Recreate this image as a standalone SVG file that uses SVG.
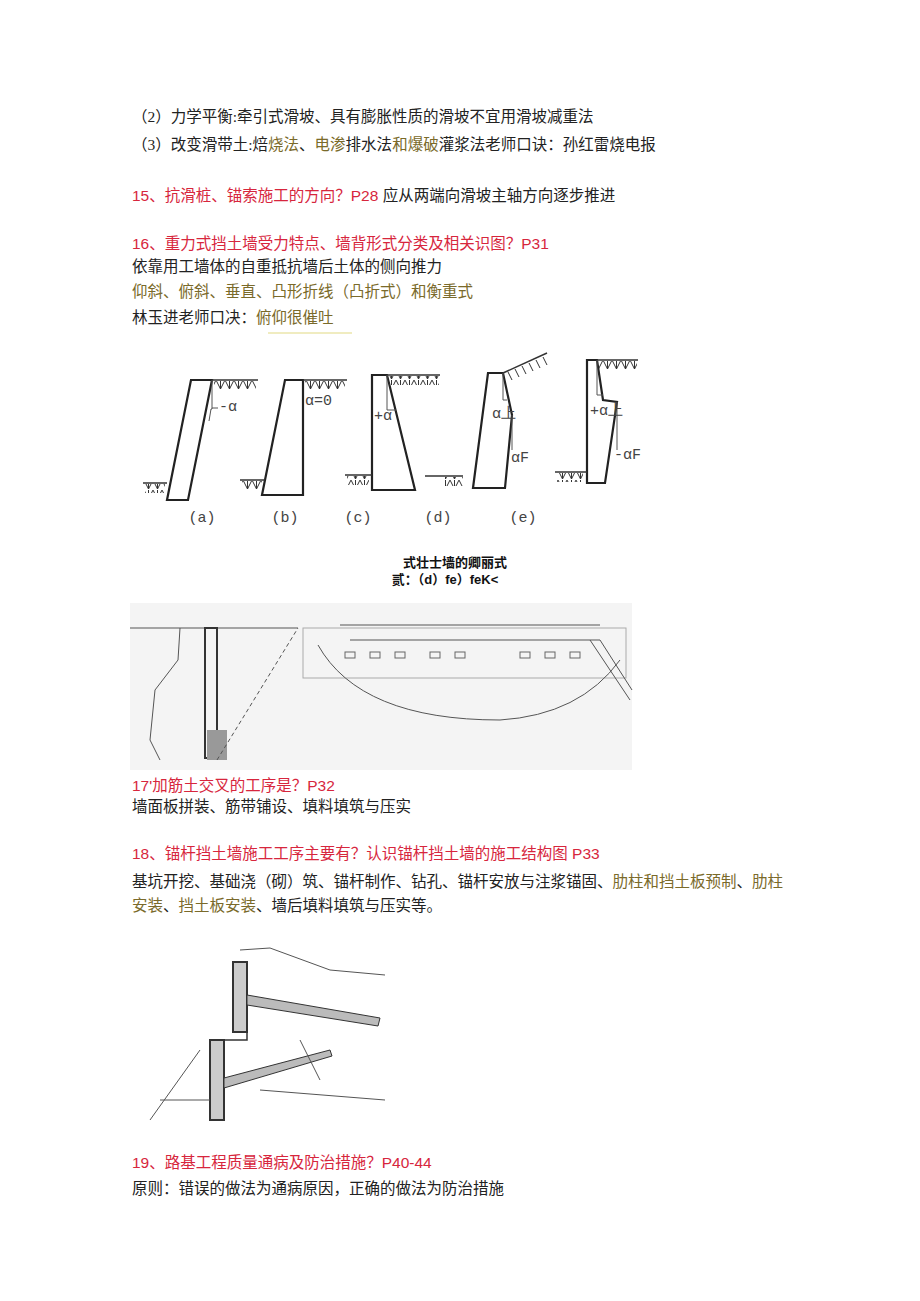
<svg xmlns="http://www.w3.org/2000/svg" width="920" height="1301" viewBox="0 0 920 1301">
<style>
text{font-family:"Liberation Serif","Noto Sans CJK SC",serif;font-size:15.5px;fill:#222}
.r{fill:#d7263d;font-family:"Liberation Sans","Noto Sans CJK SC",sans-serif;font-size:15.5px}
.o{fill:#7a6a2a}
.w{fill:none;stroke:#222;stroke-width:2.2}
.g{fill:none;stroke:#333;stroke-width:1.5}
.h{stroke:#333;stroke-width:1}
.lb{font-family:"Liberation Mono",monospace;font-size:15px;fill:#444}
.cap{font-family:"Liberation Sans","Noto Sans CJK SC",sans-serif;font-size:13px;font-weight:bold;fill:#111}
.p{fill:none;stroke:#555;stroke-width:1}
</style>
<defs>
<pattern id="hat" width="9" height="10" patternUnits="userSpaceOnUse"><path d="M0 0 L4.5 9 M4.5 0 L4.5 9 M9 0 L4.5 9" class="h"/></pattern>
</defs>
<rect width="920" height="1301" fill="#fff"/>
<text x="132" y="122">（2）力学平衡:牵引式滑坡、具有膨胀性质的滑坡不宜用滑坡减重法</text>
<text x="132" y="150">（3）改变滑带土:焙<tspan class="o">烧法</tspan>、<tspan class="o">电渗</tspan>排水法<tspan class="o">和爆破</tspan>灌浆法老师口诀：孙红雷烧电报</text>
<text x="132" y="201" class="r">15、抗滑桩、锚索施工的方向？P28 <tspan style="fill:#222;font-family:'Liberation Serif','Noto Sans CJK SC',serif">应从两端向滑坡主轴方向逐步推进</tspan></text>
<text x="132" y="249" class="r">16、重力式挡土墙受力特点、墙背形式分类及相关识图？P31</text>
<text x="132" y="272">依靠用工墙体的自重抵抗墙后土体的侧向推力</text>
<text x="132" y="297" class="o">仰斜、俯斜、垂直、凸形折线（凸折式）和衡重式</text>
<text x="132" y="323">林玉进老师口决：<tspan class="o">俯仰很催吐</tspan></text>
<line x1="268" y1="333" x2="352" y2="333" stroke="#f0ecc0" stroke-width="2"/>

<g id="fig1">
<polygon class="w" points="191,380 212,380 188,500 167,500"/>
<line class="g" x1="212" y1="380" x2="258" y2="380"/><rect x="214" y="381" width="42" height="9" fill="url(#hat)"/>
<line class="g" x1="143" y1="483" x2="167" y2="483"/><rect x="145" y="484" width="20" height="9" fill="url(#hat)"/>
<polyline class="p" points="212,380 212,409 211,409 209,421"/><line class="p" x1="212" y1="408" x2="218" y2="408"/>
<text class="lb" x="219" y="411">-α</text>
<polygon class="w" points="285,380 303,380 303,495 262,495"/>
<line class="g" x1="303" y1="380" x2="347" y2="380"/><rect x="305" y="381" width="40" height="9" fill="url(#hat)"/>
<line class="g" x1="240" y1="480" x2="265" y2="480"/><rect x="242" y="481" width="20" height="9" fill="url(#hat)"/>
<text class="lb" x="305" y="405">α=0</text>
<polygon class="w" points="372,375 387,375 415,490 372,490"/>
<line class="g" x1="387" y1="375" x2="440" y2="375"/><rect x="389" y="376" width="50" height="9" fill="url(#hat)"/>
<line class="g" x1="345" y1="475" x2="372" y2="475"/><rect x="347" y="476" width="22" height="9" fill="url(#hat)"/>
<polyline class="p" points="387,375 387,410 396,410"/><text class="lb" x="374" y="420">+α</text>
<line class="g" x1="425" y1="476" x2="463" y2="476"/><rect x="445" y="477" width="18" height="9" fill="url(#hat)"/>
<polygon class="w" points="488,373 503,373 512,415 505,488 473,488"/>
<line class="g" x1="503" y1="373" x2="547" y2="353"/>
<path d="M508 372 l4 8 M515 369 l4 8 M522 366 l4 8 M529 363 l4 8 M536 360 l4 8 M543 357 l4 8" class="h"/>
<polyline class="p" points="503,373 503,400 507,400"/><polyline class="p" points="512,415 512,450"/>
<text class="lb" x="492" y="418">α上</text><text class="lb" x="511" y="462">αF</text>
<polygon class="w" points="587,360 597,360 603,400 617,402 605,483 587,483"/>
<line class="g" x1="597" y1="360" x2="638" y2="360"/><rect x="599" y="361" width="38" height="9" fill="url(#hat)"/>
<line class="g" x1="555" y1="472" x2="587" y2="472"/><rect x="557" y="473" width="26" height="9" fill="url(#hat)"/>
<polyline class="p" points="597,360 597,395 603,395"/><polyline class="p" points="617,402 617,450"/>
<text class="lb" x="590" y="415">+α上</text><text class="lb" x="614" y="459">-αF</text>
<text class="lb" x="202" y="522" text-anchor="middle">(a)</text>
<text class="lb" x="285" y="522" text-anchor="middle">(b)</text>
<text class="lb" x="358" y="522" text-anchor="middle">(c)</text>
<text class="lb" x="438" y="522" text-anchor="middle">(d)</text>
<text class="lb" x="523" y="522" text-anchor="middle">(e)</text>
</g>
<text class="cap" x="455" y="567" text-anchor="middle">式壮士墙的卿丽式</text>
<text class="cap" x="445" y="584" text-anchor="middle">贰：（d）fe）feK&lt;</text>

<g id="fig2">
<rect x="130" y="603" width="502" height="167" fill="#f4f4f4"/>
<line class="p" x1="130" y1="628" x2="298" y2="628"/>
<polyline class="p" points="180,628 178,660 155,690 150,740 160,760"/>
<rect x="205" y="628" width="12" height="130" fill="none" stroke="#333" stroke-width="2"/>
<rect x="207" y="730" width="20" height="30" fill="#999"/>
<line class="p" x1="217" y1="760" x2="298" y2="628" stroke-dasharray="4,3"/>
<rect x="303" y="628" width="323" height="50" fill="none" stroke="#aaa"/>
<path class="p" d="M318 645 Q360 720 500 720 Q580 715 620 660"/>
<path class="p" d="M340 625 L600 625 M350 640 L600 640"/>
<g fill="none" stroke="#666"><rect x="345" y="652" width="10" height="6"/><rect x="370" y="652" width="10" height="6"/><rect x="395" y="652" width="10" height="6"/><rect x="430" y="652" width="10" height="6"/><rect x="455" y="652" width="10" height="6"/><rect x="520" y="652" width="10" height="6"/><rect x="545" y="652" width="10" height="6"/><rect x="570" y="652" width="10" height="6"/></g>
<path class="p" d="M590 640 L630 700 M600 640 L632 690"/>
</g>

<text x="132" y="791" class="r">17'加筋土交叉的工序是？P32</text>
<text x="132" y="812">墙面板拼装、筋带铺设、填料填筑与压实</text>
<text x="132" y="859" class="r">18、锚杆挡土墙施工工序主要有？认识锚杆挡土墙的施工结构图 P33</text>
<text x="132" y="887">基坑开挖、基础浇（砌）筑、锚杆制作、钻孔、锚杆安放与注浆锚固、<tspan class="o">肋柱和挡土板预制</tspan>、<tspan class="o">肋柱</tspan></text>
<text x="132" y="911"><tspan class="o">安装</tspan>、<tspan class="o">挡土板安装</tspan>、墙后填料填筑与压实等。</text>

<g id="fig3">
<rect x="233" y="962" width="14" height="70" fill="#ccc" stroke="#333" stroke-width="2"/>
<rect x="210" y="1040" width="14" height="80" fill="#ccc" stroke="#333" stroke-width="2"/>
<polyline class="g" points="247,1032 247,1040 224,1040"/>
<polygon points="247,995 380,1018 378,1026 247,1005" fill="#bbb" stroke="#333"/>
<polygon points="224,1078 330,1050 332,1056 224,1088" fill="#bbb" stroke="#333"/>
<polyline class="p" points="240,950 270,948 330,970 385,975"/>
<path class="p" d="M150 1120 L200 1050 M300 1040 L320 1080 M260 1090 L385 1100"/>
<line class="p" x1="160" y1="1100" x2="210" y2="1100"/>
</g>

<text x="132" y="1168" class="r">19、路基工程质量通病及防治措施？P40-44</text>
<text x="132" y="1194">原则：错误的做法为通病原因，正确的做法为防治措施</text>
</svg>
